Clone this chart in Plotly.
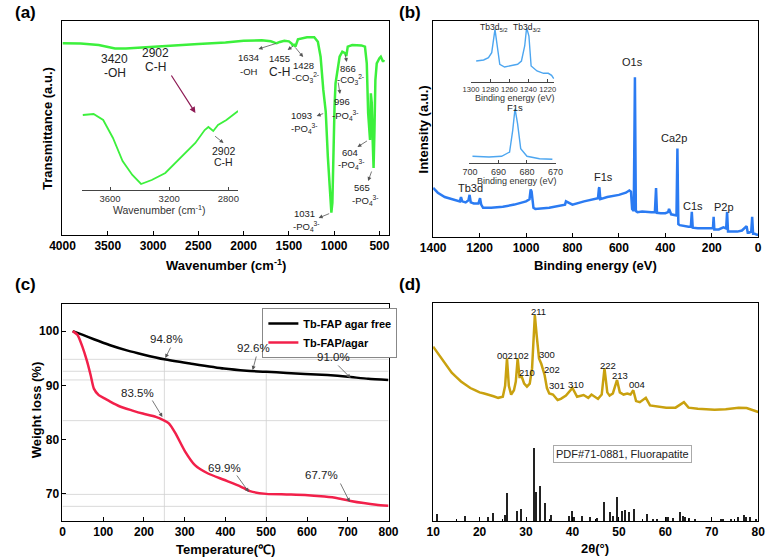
import plotly.graph_objects as go

W, H = 775, 557
FONT = "Liberation Sans, Arial, Helvetica, sans-serif"

# ---------------- (a) FTIR ----------------
ftir_wn = [4000, 3800, 3600, 3500, 3420, 3300, 3200, 3000, 2800, 2500, 2200, 2000, 1800,
           1700, 1650, 1634, 1600, 1550, 1500, 1470, 1455, 1445, 1428, 1415, 1400, 1300,
           1220, 1180, 1150, 1120, 1093, 1070, 1045, 1031, 1020, 1000, 996, 985, 960, 940,
           910, 880, 866, 850, 800, 700, 660, 640, 625, 612, 604, 595, 585, 575, 565, 555,
           545, 530, 515, 500, 485, 470, 460, 450]
ftir_t = [89.6, 89.5, 88.8, 87.8, 87.2, 87.2, 87.5, 88.0, 88.5, 89.3, 90.0, 90.8, 91.0,
          90.5, 89.8, 89.6, 90.2, 90.8, 90.5, 89.5, 88.3, 89.2, 88.0, 90.0, 91.4, 92.4,
          92.4, 90.3, 83.3, 67.8, 57.6, 36.6, 17.9, 10.4, 15.0, 57.0, 60.0, 70.9, 78.0, 83.3,
          85.7, 85.0, 83.6, 88.0, 88.8, 88.6, 88.0, 80.2, 57.0, 47.7, 44.4, 66.2, 61.7, 44.4,
          31.3, 49.0, 72.4, 80.2, 81.8, 82.6, 83.3, 82.1, 81.0, 81.8]
inset_wn = [3784, 3711, 3646, 3580, 3515, 3449, 3390, 3318, 3226, 3121, 3023, 2960, 2935,
            2902, 2870, 2813, 2734]
inset_t = [75, 76, 70, 52, 29, 15, 6, 10, 17, 32, 47, 60, 63, 59, 65, 70, 79]
inset_ticks = [3600, 3200, 2800]

# ---------------- (b) XPS ----------------
xps_be = [1400, 1380, 1350, 1320, 1300, 1285, 1280, 1275, 1260, 1248, 1243, 1238, 1225, 1205,
          1198, 1193, 1185, 1150, 1100, 1050, 1000, 985, 980, 976, 968, 960, 900, 850, 832,
          828, 800, 750, 700, 690, 686, 684, 680, 650, 600, 570, 555, 548, 543, 536, 531,
          527, 520, 500, 460, 445, 440, 436, 420, 400, 388, 384, 375, 360, 352, 348, 344,
          338, 320, 300, 290, 286, 282, 260, 220, 200, 195, 192, 189, 170, 150, 138, 134,
          130, 120, 90, 70, 60, 50, 45, 40, 30, 26, 22, 15, 5, 0]
xps_int = [22.7, 20.5, 18.5, 17.5, 17.0, 16.5, 18.5, 16.5, 16.0, 17.0, 19.5, 16.0, 15.5, 15.5,
           18.0, 15.0, 13.5, 13.5, 14.0, 15.0, 16.5, 17.5, 22.0, 21.0, 13.5, 13.0, 13.5, 14.5,
           15.0, 16.5, 15.0, 16.5, 17.5, 18.0, 22.5, 23.0, 17.5, 18.5, 19.5, 20.5, 21.5, 21.0,
           13.0, 12.0, 74.0, 12.0, 11.5, 11.8, 11.5, 11.5, 22.7, 11.2, 11.0, 11.0, 11.5, 13.0,
           10.5, 10.0, 10.0, 41.0, 6.0, 5.5, 5.0, 4.8, 4.8, 11.6, 4.3, 4.0, 4.0, 3.8, 4.0, 9.3,
           3.5, 3.5, 4.5, 4.0, 11.6, 2.5, 2.5, 2.5, 3.0, 4.0, 5.0, 2.0, 2.0, 2.5, 9.3, 1.5,
           1.5, 1.0, 1.0]
tb_be = [1294.6, 1286.8, 1281.8, 1278.4, 1275.0, 1272.7, 1270.0, 1265.0, 1258.2, 1251.4,
         1247.4, 1244.0, 1242.0, 1239.6, 1237.3, 1231.2, 1224.4, 1219.4, 1216.0, 1213.7]
tb_int = [21, 22, 24.3, 29.3, 52.7, 36, 17.7, 15, 16, 17.7, 21, 36, 54.3, 46, 16, 11, 8.7,
          8.7, 6.7, 3.3]
tb_ticks = [1300, 1280, 1260, 1240, 1220]
f_be = [699.1, 693.3, 688.9, 686.1, 685.0, 684.2, 683.3, 682.2, 680.0, 675.6, 671.1]
f_int = [6.7, 6.0, 6.7, 11.0, 32.7, 54.3, 39.3, 14.3, 6.7, 4.3, 3.7]
f_ticks = [700, 690, 680, 670]

# ---------------- (c) TGA ----------------
tga_t_free = [25, 50, 77, 117, 160, 197, 250, 316, 396, 452, 500, 550, 595, 650, 700, 750, 800]
tga_w_free = [100, 99.3, 98.5, 97.4, 96.4, 95.7, 94.8, 94.0, 93.1, 92.7, 92.5, 92.3, 92.1,
              91.9, 91.6, 91.2, 91.0]
tga_t_agar = [25, 37, 49, 60, 69, 77, 89, 103, 117, 141, 170, 197, 229, 250, 261, 277, 301,
              325, 356, 396, 436, 460, 500, 550, 595, 643, 675, 707, 739, 770, 800]
tga_w_agar = [100, 99.3, 97.1, 94.5, 91.9, 89.4, 88.2, 87.6, 87.0, 86.1, 85.4, 84.8, 84.2,
              83.5, 83.0, 81.2, 77.8, 75.3, 73.8, 72.6, 71.4, 70.5, 70.0, 69.9, 69.8, 69.5,
              69.2, 68.7, 68.3, 68.0, 67.8]
ref_levels = [94.8, 92.6, 91.0, 83.5, 69.9, 67.7]
ref_temps = [250, 500]
ref_temp_tops = [94.8, 92.6]

# ---------------- (d) XRD ----------------
xrd_2t = [10, 11, 12, 13, 14, 15, 16, 17, 18, 19, 20, 21, 22, 23, 24, 25, 25.5, 25.9, 26.3,
          26.8, 27.4, 27.8, 28.2, 28.6, 29.1, 29.6, 30.2, 30.8, 31.3, 31.9, 32.3, 32.8, 33.3,
          34.0, 34.5, 35.0, 35.8, 36.8, 37.5, 38.6, 40.0, 41.0, 42.4, 43.4, 44.1, 45.5, 46.3,
          46.9, 47.5, 48.0, 48.7, 49.6, 50.2, 51.0, 51.8, 52.5, 53.1, 53.7, 54.5, 55.8, 56.7,
          58, 60.2, 62.2, 64.0, 65.0, 67, 70.6, 73, 75.8, 77.5, 80]
xrd_int = [80, 77, 73.5, 70.5, 68, 66, 64, 62.5, 61, 60, 59, 58.5, 58, 57.2, 56.5, 57, 62,
           74.6, 62, 58, 60, 64, 74.6, 66, 66, 63, 61.6, 63, 70, 94.5, 85, 74.6, 72, 67, 61,
           58.5, 58, 55.5, 56, 57.5, 61, 57, 57.8, 56.5, 58, 56, 58, 70, 59, 57.5, 58.5, 64.7,
           59, 58, 58.5, 58, 60, 55, 54.5, 56.5, 53, 52.5, 52, 52, 54.5, 52, 51.5, 51, 51.3,
           52, 51.8, 50]
pdf_2t = [10.9, 16.9, 21.8, 22.9, 25.4, 25.9, 28.1, 29.0, 31.8, 32.2, 33.1, 34.1, 35.5, 39.2,
          40.0, 40.4, 42.1, 43.9, 45.3, 46.9, 48.2, 48.8, 49.6, 50.6, 51.4, 52.2, 53.2, 56.1,
          57.4, 58.2, 60.2, 60.6, 61.7, 63.1, 63.9, 64.3, 65.1, 66.5, 72.0, 72.5, 74.2, 75.7,
          77.0, 77.3, 78.2, 79.5]
pdf_int = [9, 7, 6, 11, 8, 38, 14, 16, 100, 40, 48, 25, 8, 7, 14, 6, 7, 5, 4, 26, 12, 7, 33,
           14, 15, 12, 16, 10, 3, 3, 5, 5, 4, 12, 7, 5, 4, 2, 3, 2, 2, 5, 8, 6, 5, 3]
hkl_labels = ["211", "002", "102", "300", "210", "202", "301", "310", "222", "213", "004"]

# ---------------- helpers ----------------
def fx(x):
    return x / W

def fy(y):
    return 1 - y / H

def txt(x, y, text, size=10, color="#222", bold=False, angle=0):
    t = f"<b>{text}</b>" if bold else text
    return dict(x=fx(x), y=fy(y), xref="paper", yref="paper", text=t, showarrow=False,
                xanchor="center", yanchor="middle", textangle=angle,
                font=dict(family=FONT, size=size, color=color))

def arrow(head, tail, color="#555", width=0.8, size=1.0):
    return dict(x=fx(head[0]), y=fy(head[1]), xref="paper", yref="paper", text="",
                showarrow=True, ax=tail[0] - head[0], ay=tail[1] - head[1],
                axref="pixel", ayref="pixel", arrowhead=2, arrowsize=size,
                arrowwidth=width, arrowcolor=color)

fig = go.Figure()

GREEN = "#3CF03C"
BLUE = "#2B7BF2"
LBLUE = "#4DA6F0"
RED = "#F2204A"
GOLD = "#C9A10F"

# traces
fig.add_trace(go.Scatter(x=ftir_wn, y=ftir_t, mode="lines", line=dict(color=GREEN, width=2.5),
                         xaxis="x", yaxis="y", showlegend=False))
fig.add_trace(go.Scatter(x=inset_wn, y=inset_t, mode="lines", line=dict(color=GREEN, width=1.8),
                         xaxis="x5", yaxis="y6", showlegend=False))
fig.add_trace(go.Scatter(x=xps_be, y=xps_int, mode="lines", line=dict(color=BLUE, width=2.5),
                         xaxis="x2", yaxis="y2", showlegend=False))
fig.add_trace(go.Scatter(x=tb_be, y=tb_int, mode="lines", line=dict(color=LBLUE, width=1.4),
                         xaxis="x6", yaxis="y7", showlegend=False))
fig.add_trace(go.Scatter(x=f_be, y=f_int, mode="lines", line=dict(color=LBLUE, width=1.4),
                         xaxis="x7", yaxis="y8", showlegend=False))
fig.add_trace(go.Scatter(x=tga_t_free, y=tga_w_free, mode="lines", name="Tb-FAP agar free",
                         line=dict(color="black", width=2.5, shape="spline", smoothing=0.6),
                         xaxis="x3", yaxis="y3"))
fig.add_trace(go.Scatter(x=tga_t_agar, y=tga_w_agar, mode="lines", name="Tb-FAP/agar",
                         line=dict(color=RED, width=2.5, shape="spline", smoothing=0.6),
                         xaxis="x3", yaxis="y3"))
fig.add_trace(go.Scatter(x=xrd_2t, y=xrd_int, mode="lines", line=dict(color=GOLD, width=2.5),
                         xaxis="x4", yaxis="y4", showlegend=False))
fig.add_trace(go.Bar(x=pdf_2t, y=pdf_int, width=0.22, marker=dict(color="#222", line=dict(width=0)),
                     xaxis="x4", yaxis="y5", showlegend=False))

# reference lines in (c)
shapes = []
for lv in ref_levels:
    shapes.append(dict(type="line", xref="x3", yref="y3", x0=0, x1=800, y0=lv, y1=lv,
                       line=dict(color="#d0d0d0", width=0.8), layer="below"))
for tx, top in zip(ref_temps, ref_temp_tops):
    shapes.append(dict(type="line", xref="x3", yref="y3", x0=tx, x1=tx, y0=65, y1=top,
                       line=dict(color="#d0d0d0", width=0.8), layer="below"))

main_ax = dict(showline=True, mirror=True, linecolor="black", linewidth=1, showgrid=False,
               zeroline=False, ticks="inside", ticklen=4, tickcolor="black",
               tickfont=dict(family=FONT, size=12, color="black", weight="bold"))
hid_y = dict(showline=True, mirror=True, linecolor="black", linewidth=1, showgrid=False,
             zeroline=False, showticklabels=False, ticks="")
inset_x = dict(showline=True, mirror=False, linecolor="#444", linewidth=1, showgrid=False,
               zeroline=False, ticks="inside", ticklen=3, tickcolor="#444", tickangle=0,
               tickfont=dict(family=FONT, size=9.5, color="#333"))
inv_y = dict(visible=False, showgrid=False, zeroline=False)

fig.update_layout(
    width=W, height=H, autosize=False, margin=dict(l=0, r=0, t=0, b=0),
    paper_bgcolor="white", plot_bgcolor="rgba(0,0,0,0)",
    xaxis=dict(main_ax, domain=[fx(51), fx(387)], range=[4000, 400], anchor="y",
               tickvals=[4000, 3500, 3000, 2500, 2000, 1500, 1000, 500]),
    yaxis=dict(hid_y, domain=[fy(235), fy(21)], range=[0, 100], anchor="x"),
    xaxis2=dict(main_ax, domain=[fx(433), fx(768)], range=[1400, 0], anchor="y2",
                tickvals=[1400, 1200, 1000, 800, 600, 400, 200, 0]),
    yaxis2=dict(hid_y, domain=[fy(237), fy(21)], range=[0, 100], anchor="x2"),
    xaxis3=dict(main_ax, domain=[fx(51), fx(387)], range=[0, 800], anchor="y3", dtick=100),
    yaxis3=dict(main_ax, domain=[fy(521), fy(304)], range=[65, 105], anchor="x3",
                tickvals=[70, 80, 90, 100]),
    xaxis4=dict(main_ax, domain=[fx(433), fx(768)], range=[10, 80], anchor="y4", dtick=10,
                minor=dict(dtick=5, ticks="inside", ticklen=2, tickcolor="black")),
    yaxis4=dict(hid_y, domain=[fy(521), fy(303)], range=[0, 100], anchor="x4"),
    yaxis5=dict(inv_y, overlaying="y4", range=[0, 300], anchor="x4"),
    xaxis5=dict(inset_x, domain=[fx(71), fx(232)], range=[3790, 2734], anchor="y6",
                tickvals=inset_ticks),
    yaxis6=dict(inv_y, domain=[fy(190), fy(110)], range=[0, 80], anchor="x5"),
    xaxis6=dict(inset_x, domain=[fx(472), fx(558)], range=[1300, 1213], anchor="y7",
                tickvals=tb_ticks, tickfont=dict(family=FONT, size=7.6, color="#333")),
    yaxis7=dict(inv_y, domain=[fy(82), fy(28)], range=[0, 54], anchor="x6"),
    xaxis7=dict(inset_x, domain=[fx(470), fx(560)], range=[700.3, 669.7], anchor="y8",
                tickvals=f_ticks, tickfont=dict(family=FONT, size=9, color="#333")),
    yaxis8=dict(inv_y, domain=[fy(163), fy(105)], range=[0, 58], anchor="x7"),
    bargap=0,
    showlegend=True,
    legend=dict(x=fx(257), y=fy(308), xanchor="left", yanchor="top", bgcolor="white",
                bordercolor="#888", borderwidth=1, tracegroupgap=0, itemwidth=30,
                font=dict(family=FONT, size=11, color="black", weight="bold")),
    shapes=shapes,
)

ann = []
# panel letters
ann += [txt(13, 12, "(a)", 17, "black", True), txt(409, 12, "(b)", 17, "black", True),
        txt(13, 284, "(c)", 17, "black", True), txt(409, 284, "(d)", 17, "black", True)]
# axis titles
ann += [txt(219, 265, "Wavenumber (cm<sup>-1</sup>)", 13, "black", True),
        txt(600, 265, "Binding energy (eV)", 13, "black", True),
        txt(219, 549, "Temperature(℃)", 13, "black", True),
        txt(600, 548, "2θ(°)", 13, "black", True),
        txt(35, 128, "Transmittance (a.u.)", 13, "black", True, -90),
        txt(423, 129, "Intensity (a.u.)", 13, "black", True, -90),
        txt(24, 410, "Weight loss (%)", 13, "black", True, -90),
        txt(151, 209, "Wavenumber (cm<sup>-1</sup>)", 10.5, "#333"),
        txt(517, 98, "Binding energy (eV)", 9, "#333"),
        txt(519, 181, "Binding energy (eV)", 9, "#333")]

# (a) labels
PO4 = "-PO<sub>4</sub><sup>3-</sup>"
CO3 = "-CO<sub>3</sub><sup>2-</sup>"
ann += [txt(105, 59, "3420", 12), txt(105, 73, "-OH", 12),
        txt(147, 53, "2902", 12), txt(147, 67, "C-H", 12),
        txt(243, 58, "1634", 9.5), txt(243, 71, "-OH", 9.5),
        txt(275, 59, "1455", 9.5), txt(275, 72, "C-H", 12),
        txt(299, 65, "1428", 9.5), txt(301, 77, CO3, 9.5),
        txt(345, 68, "866", 9.5), txt(348, 80, CO3, 9.5),
        txt(339, 102, "996", 9.5), txt(343, 115, PO4, 9.5),
        txt(297, 116, "1093", 9.5), txt(300, 128, PO4, 9.5),
        txt(300, 213, "1031", 9.5), txt(302, 226, PO4, 9.5),
        txt(347, 152, "604", 9.5), txt(349, 164, PO4, 9.5),
        txt(360, 188, "565", 9.5), txt(363, 200, PO4, 9.5),
        txt(217, 151, "2902", 10.5), txt(217, 162, "C-H", 10.5)]
ann += [arrow((253, 49), (272, 43)), arrow((283, 50), (290, 45)), arrow((299, 57), (290, 46)),
        arrow((344, 62), (342, 53)), arrow((337, 94), (335, 81)), arrow((313, 116), (321, 113)),
        arrow((315, 218), (327, 213)), arrow((355, 147), (366, 140)),
        arrow((366, 181), (370, 170)), arrow((217, 143), (207, 135)),
        arrow((188, 113), (163, 74), color="#8E1B55", width=1.2, size=1.0)]

# (b) labels
ann += [txt(472, 188, "Tb3d", 11), txt(609, 177, "F1s", 11), txt(638, 62, "O1s", 11),
        txt(681, 138, "Ca2p", 11), txt(701, 206, "C1s", 11), txt(733, 207, "P2p", 11),
        txt(496, 27, "Tb3d<sub>5/2</sub>", 8.5), txt(530, 27, "Tb3d<sub>3/2</sub>", 8.5),
        txt(517, 108, "F1s", 9.5)]

# (c) labels
ann += [txt(158, 339, "94.8%", 11.5), txt(248, 348, "92.6%", 11.5), txt(330, 357, "91.0%", 11.5),
        txt(128, 393, "83.5%", 11.5), txt(218, 468, "69.9%", 11.5), txt(318, 475, "67.7%", 11.5)]
ann += [arrow((157, 358), (163, 346)), arrow((247, 370), (251, 355)), arrow((348, 378), (334, 364)),
        arrow((154, 417), (143, 399)), arrow((243, 492), (230, 474)), arrow((347, 502), (337, 482))]

# (d) labels
hkl_pos = [(542, 311), (507, 355), (524, 355), (550, 354), (530, 372), (555, 369),
           (561, 385), (580, 384), (613, 365), (626, 375), (643, 384)]
for lab, (px, py) in zip(hkl_labels, hkl_pos):
    ann.append(txt(px, py, lab, 9.5, "#111"))
pdf_box = txt(628, 454, "PDF#71-0881, Fluorapatite", 11, "#222")
pdf_box.update(bordercolor="#aaa", borderwidth=1, borderpad=2, bgcolor="white")
ann.append(pdf_box)

fig.update_layout(annotations=ann)
fig.write_html("out.html", config={"displayModeBar": False},
               post_script="document.body.style.margin='0';document.body.style.padding='0';")
